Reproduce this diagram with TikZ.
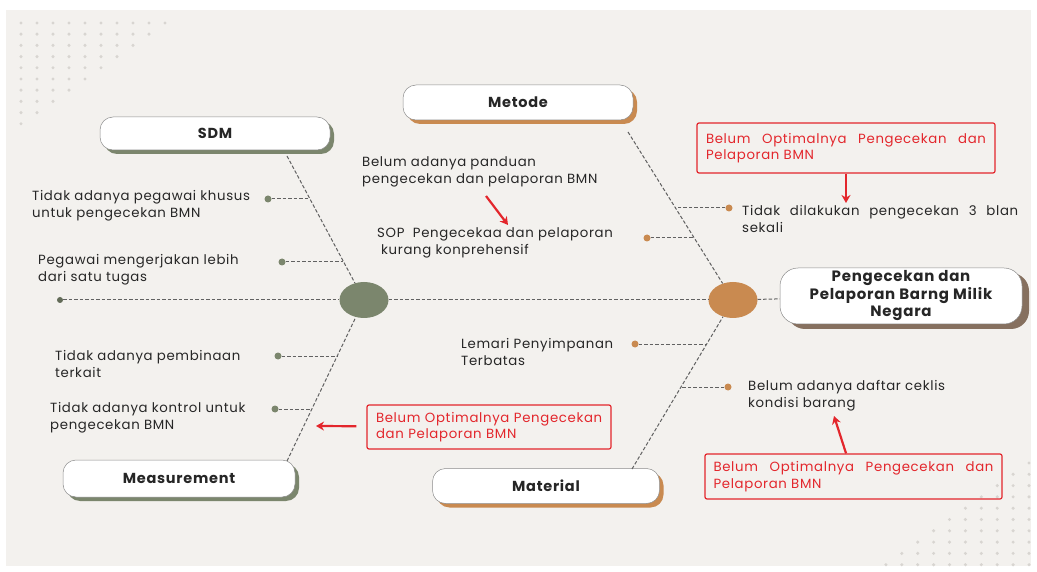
\documentclass[tikz,border=0pt]{standalone}
\usepackage{fontspec}
\setmainfont[LetterSpace=5]{Poppins}
\usetikzlibrary{shapes.geometric,positioning,arrows.meta,shadows}
\definecolor{bg}{HTML}{F3F1EE}
\definecolor{sage}{HTML}{7B866D}
\definecolor{ochre}{HTML}{C98A50}
\definecolor{umber}{HTML}{86705F}
\definecolor{alert}{HTML}{E3262C}
\definecolor{ink}{HTML}{262626}
\definecolor{speck}{HTML}{D8D5D1}

\begin{document}
\begin{tikzpicture}[x=1pt,y=-1pt]
		\tikzstyle{main}=[ellipse, minimum width=49pt, minimum height=36pt, inner sep=0pt]
		\tikzstyle{box}=[rectangle, rounded corners=13pt, draw=black!45, fill=white, line width=0.5pt, inner sep=0pt, text=ink, font=\bfseries\fontsize{14.5}{17}\selectfont]
		\tikzstyle{connect}=[draw=black!62, line width=1pt, dash pattern=on 3.5pt off 2pt]
		\tikzstyle{pin}=[circle, inner sep=0pt, minimum size=7pt]
		\tikzstyle{txt}=[inner sep=0pt, anchor=west, align=left, text=ink, font=\fontsize{13.3}{17}\selectfont]
		\tikzstyle{note}=[rectangle, rounded corners=2pt, draw=alert, line width=1.2pt, inner sep=0pt, text=alert, font=\fontsize{13.3}{16.5}\selectfont]
		\tikzstyle{hint}=[draw=alert, line width=2.2pt, -{Stealth[length=8pt,width=9pt]}]
		
		\useasboundingbox (0,0) rectangle (1037,572);
		\fill[white] (0,0) rectangle (1037,572);
		\fill[bg] (6,10) rectangle (1031,566);
		
		% dot patterns
		\foreach \i in {0,...,9}{
			\pgfmathtruncatemacro{\n}{9-\i}
			\foreach \j in {0,...,\n}
				\fill[speck] (21+16*\j, 23+11.2*\i) circle (1.7);
		}
		\foreach \i in {0,...,9}{
			\foreach \j in {0,...,\i}
				\fill[speck] (1029-15.9*\j, 463+11.3*\i) circle (1.7);
		}
		
		% bones
		\node[box, minimum width=230pt, minimum height=33pt, drop shadow={shadow xshift=4pt, shadow yshift=-4pt, fill=sage, opacity=1}] (a) at (215,133.5) {SDM};
		\node[box, minimum width=230pt, minimum height=35pt, drop shadow={shadow xshift=4pt, shadow yshift=-4pt, fill=ochre, opacity=1}] (b) at (518,102.5) {Metode};
		\node[box, minimum width=232pt, minimum height=37pt, drop shadow={shadow xshift=4pt, shadow yshift=-4pt, fill=sage, opacity=1}] (c) at (179,478.5) {Measurement};
		\node[box, minimum width=227pt, minimum height=35pt, drop shadow={shadow xshift=4pt, shadow yshift=-4pt, fill=ochre, opacity=1}] (d) at (546,486) {Material};
		\node[box, rounded corners=18pt, minimum width=242pt, minimum height=56pt, align=center, font=\bfseries\fontsize{15}{17.5}\selectfont, drop shadow={shadow xshift=7pt, shadow yshift=-5pt, fill=umber, opacity=1}] (h) at (901,296) {Pengecekan dan\\Pelaporan Barng Milik\\Negara};
		
		\node[main, fill=sage]  (g) at (364,300) {};
		\node[main, fill=ochre] (o) at (733,300) {};
		\node[pin, fill=sage!80!black, minimum size=6pt] (s) at (60,300) {};
		
		\coordinate (a1) at (287,156);
		\coordinate (b1) at (628,132);
		\coordinate (c1) at (287,461);
		\coordinate (d1) at (632,469);
		
		\path
		(s) edge [connect] (g)
		(g) edge [connect] (o)
		(o) edge [connect] (h)
		(a1) edge [connect] (g)
		(c1) edge [connect] (g)
		(b1) edge [connect] (o)
		(d1) edge [connect] (o)
		;
		
		% causes
		\node[pin, fill=sage]  (p1) at (268,199) {};
		\node[pin, fill=sage]  (p2) at (282,262) {};
		\node[pin, fill=sage]  (p3) at (278,356) {};
		\node[pin, fill=sage]  (p4) at (275,409) {};
		\node[pin, fill=ochre] (p5) at (647,238) {};
		\node[pin, fill=ochre] (p6) at (729,208) {};
		\node[pin, fill=ochre] (p7) at (635,344) {};
		\node[pin, fill=ochre] (p8) at (728,387) {};
		
		\coordinate (q1) at (310,199);
		\coordinate (q2) at (343,262);
		\coordinate (q3) at (337,356);
		\coordinate (q4) at (311,409);
		\coordinate (q5) at (694,238);
		\coordinate (q6) at (675,208);
		\coordinate (q7) at (707,344);
		\coordinate (q8) at (681,387);
		
		\path
		(p1) edge [connect] (q1)
		(p2) edge [connect] (q2)
		(p3) edge [connect] (q3)
		(p4) edge [connect] (q4)
		(p5) edge [connect] (q5)
		(p6) edge [connect] (q6)
		(p7) edge [connect] (q7)
		(p8) edge [connect] (q8)
		;
		
		\node[txt] (t1) at (32,206)  {Tidak adanya pegawai khusus\\untuk pengecekan BMN};
		\node[txt] (t2) at (38,270)  {Pegawai mengerjakan lebih\\dari satu tugas};
		\node[txt] (t3) at (55,364)  {Tidak adanya pembinaan\\terkait};
		\node[txt] (t4) at (50,418)  {Tidak adanya kontrol untuk\\pengecekan BMN};
		\node[txt] (t5) at (362,172) {Belum adanya panduan\\pengecekan dan pelaporan BMN};
		\node[txt] (t6) at (377,243) {SOP~ Pengecekaa dan pelaporan\\\hspace*{4pt}kurang konprehensif};
		\node[txt, text width=276pt, align=justify] (t7) at (742,219) {Tidak dilakukan pengecekan 3 blan\linebreak sekali};
		\node[txt] (t8) at (461,352) {Lemari Penyimpanan\\Terbatas};
		\node[txt] (t9) at (748,396) {Belum adanya daftar ceklis\\kondisi barang};
		
		% notes
		\node[note, minimum width=298pt, minimum height=50pt, text width=280pt, align=justify] (r1) at (846,148) {Belum Optimalnya Pengecekan dan\linebreak Pelaporan BMN};
		\node[note, minimum width=244pt, minimum height=44pt, text width=226pt, align=left] (r2) at (489,427) {Belum Optimalnya Pengecekan\\dan Pelaporan BMN};
		\node[note, minimum width=297pt, minimum height=45pt, text width=280pt, align=justify] (r3) at (853.5,476.5) {Belum Optimalnya Pengecekan dan\linebreak Pelaporan BMN};
		
		\coordinate (k0) at (486,196);
		\coordinate (k1) at (508,225);
		\coordinate (k2) at (846,203);
		\coordinate (k3) at (316,426);
		\coordinate (k4) at (834,416);
		
		\path
		(k0) edge [hint] (k1)
		(r1) edge [hint] (k2)
		(r2) edge [hint, shorten <=10pt] (k3)
		(r3) edge [hint] (k4)
		;
		
\end{tikzpicture}
\end{document}
